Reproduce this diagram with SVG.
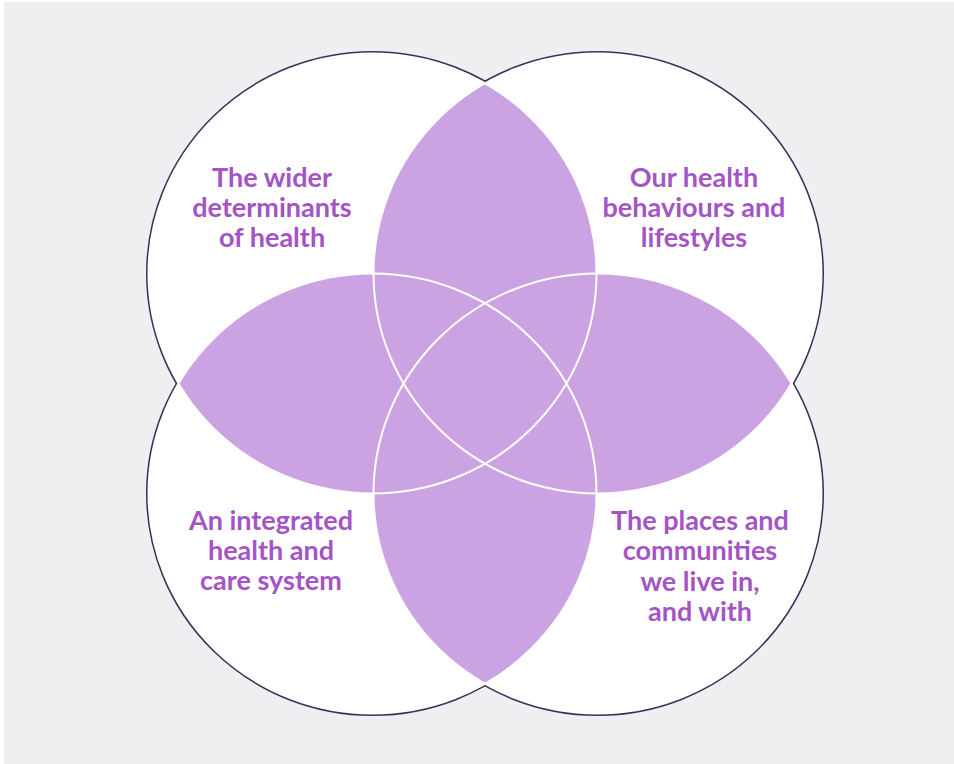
<svg xmlns="http://www.w3.org/2000/svg" width="954" height="764" viewBox="0 0 954 764">
  <style>
    .label { font-family: Lato, "Noto Sans", "Liberation Sans", sans-serif; font-weight: 700; font-size: 27px; fill: #a454c5; text-anchor: middle; }
    .outline { fill: none; stroke: #3b2e58; stroke-width: 5; }
    .disc { fill: #ffffff; stroke: none; }
    .seam { fill: none; stroke: #ffffff; stroke-width: 2; }
    .lens { fill: #cba3e2; }
  </style>
  <defs>
    <ellipse id="cTL" cx="372.5" cy="273.5" rx="224" ry="220"/>
    <ellipse id="cTR" cx="597.5" cy="273.5" rx="224" ry="220"/>
    <ellipse id="cBL" cx="372.5" cy="493.5" rx="224" ry="220"/>
    <ellipse id="cBR" cx="597.5" cy="493.5" rx="224" ry="220"/>
    <clipPath id="clipTL"><use href="#cTL"/></clipPath>
    <clipPath id="clipBR"><use href="#cBR"/></clipPath>
    <!-- keeps only the part of the outline that lies outside every circle -->
    <mask id="outside" maskUnits="userSpaceOnUse" x="0" y="0" width="954" height="764">
      <rect x="0" y="0" width="954" height="764" fill="#fff"/>
      <use href="#cTL" fill="#000"/>
      <use href="#cTR" fill="#000"/>
      <use href="#cBL" fill="#000"/>
      <use href="#cBR" fill="#000"/>
    </mask>
  </defs>

  <rect x="0" y="0" width="954" height="764" fill="#ffffff"/>
  <rect x="4" y="2" width="950" height="762" fill="#eeeff1"/>

  <!-- outer boundary of the four circles -->
  <g id="outer-outline" mask="url(#outside)">
    <use href="#cTL" class="outline"/>
    <use href="#cTR" class="outline"/>
    <use href="#cBL" class="outline"/>
    <use href="#cBR" class="outline"/>
  </g>

  <!-- circle bodies -->
  <g id="discs">
    <use href="#cTL" class="disc"/>
    <use href="#cTR" class="disc"/>
    <use href="#cBL" class="disc"/>
    <use href="#cBR" class="disc"/>
  </g>

  <!-- overlaps of neighbouring circles -->
  <g id="overlaps">
    <use href="#cTR" class="lens" clip-path="url(#clipTL)"/>
    <use href="#cBL" class="lens" clip-path="url(#clipTL)"/>
    <use href="#cTR" class="lens" clip-path="url(#clipBR)"/>
    <use href="#cBL" class="lens" clip-path="url(#clipBR)"/>
  </g>

  <!-- white seams where circle edges cross the overlaps -->
  <g id="seams">
    <use href="#cTL" class="seam"/>
    <use href="#cTR" class="seam"/>
    <use href="#cBL" class="seam"/>
    <use href="#cBR" class="seam"/>
  </g>

  <g id="node-wider-determinants">
    <text class="label" x="272" y="187">The wider</text>
    <text class="label" x="272" y="217">determinants</text>
    <text class="label" x="272" y="247">of health</text>
  </g>

  <g id="node-behaviours">
    <text class="label" x="694" y="187">Our health</text>
    <text class="label" x="694" y="217">behaviours and</text>
    <text class="label" x="694" y="247">lifestyles</text>
  </g>

  <g id="node-care-system">
    <text class="label" x="271" y="530">An integrated</text>
    <text class="label" x="271" y="560">health and</text>
    <text class="label" x="271" y="590">care system</text>
  </g>

  <g id="node-places">
    <text class="label" x="700" y="530">The places and</text>
    <text class="label" x="700" y="560">communities</text>
    <text class="label" x="700" y="591">we live in,</text>
    <text class="label" x="700" y="621">and with</text>
  </g>
</svg>
